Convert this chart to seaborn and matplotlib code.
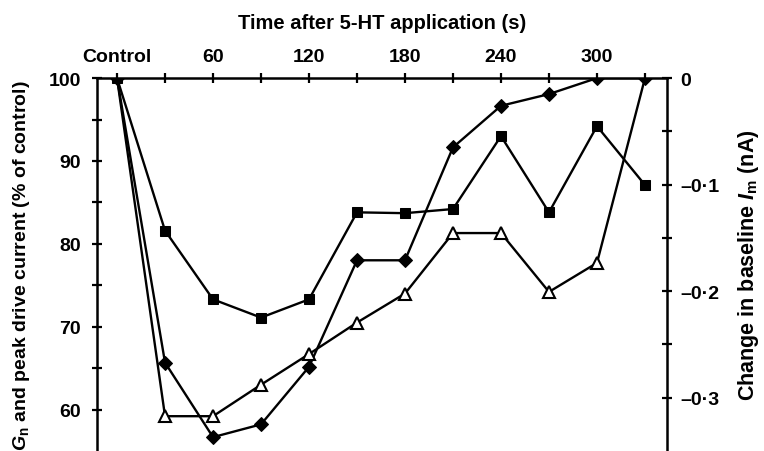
import numpy as np
import pandas as pd
import seaborn as sns
import matplotlib.pyplot as plt
from matplotlib.ticker import FixedLocator, FuncFormatter

# Time points (s) after 5-HT application; 0 is the control recording
time_s = [0, 30, 60, 90, 120, 150, 180, 210, 240, 270, 300, 330]

# Peak drive current (% of control)
peak_drive = [100, 81.6, 73.3, 71.1, 73.3, 83.8, 83.7, 84.2, 93.0, 83.8, 94.2, 87.1]
# Gn (% of control)
gn = [100, 59.2, 59.2, 63.0, 66.7, 70.5, 74.0, 81.3, 81.3, 74.2, 77.7, 100]
# Change in baseline Im (nA)
im_change = [0, -0.267, -0.337, -0.325, -0.271, -0.171, -0.171, -0.065, -0.026, -0.015, 0, 0]

x_ticks = [0, 30, 60, 90, 120, 150, 180, 210, 240, 270, 300, 330]
x_tick_labels = ["Control", "", "60", "", "120", "", "180", "", "240", "", "300", ""]

sns.set_style("ticks")
plt.rcParams["font.family"] = ["Liberation Sans", "DejaVu Sans"]
plt.rcParams["font.weight"] = "bold"
plt.rcParams["text.color"] = "black"
plt.rcParams["axes.labelcolor"] = "black"
plt.rcParams["xtick.color"] = "black"
plt.rcParams["ytick.color"] = "black"
plt.rcParams["axes.edgecolor"] = "black"
plt.rcParams["mathtext.fontset"] = "custom"
plt.rcParams["mathtext.rm"] = "Liberation Sans:bold"
plt.rcParams["mathtext.it"] = "Liberation Sans:italic:bold"

df = pd.DataFrame({"time": time_s, "peak": peak_drive, "gn": gn, "im": im_change})

fig = plt.figure(figsize=(7.64, 4.52), dpi=100)
ax = fig.add_axes([0.127, 0.0, 0.746, 0.825])
ax2 = ax.twinx()
# keep the left-axis series above the right-axis one
ax.set_zorder(ax2.get_zorder() + 1)
ax.patch.set_visible(False)

lw = 1.7
sns.lineplot(data=df, x="time", y="im", ax=ax2, color="black", lw=lw,
             marker="D", markersize=7, markerfacecolor="black",
             markeredgecolor="black", zorder=5)
sns.lineplot(data=df, x="time", y="gn", ax=ax, color="black", lw=lw,
             marker="^", markersize=8.5, markerfacecolor="white",
             markeredgecolor="black", markeredgewidth=1.5,
             markevery=list(range(1, len(time_s) - 1)), zorder=3)
sns.lineplot(data=df, x="time", y="peak", ax=ax, color="black", lw=lw,
             marker="s", markersize=7.5, markerfacecolor="black",
             markeredgecolor="black", zorder=4)

ax.set_xlim(-12.5, 343.75)
ax.set_ylim(55, 100)
ax2.set_ylim(-0.350, 0)

for a in (ax, ax2):
    a.spines["bottom"].set_visible(False)
    for s in ("left", "right", "top"):
        a.spines[s].set_linewidth(1.8)
    a.set_xlabel("")
    a.set_ylabel("")

ax.spines["right"].set_visible(False)
ax2.spines["left"].set_visible(False)
ax2.spines["top"].set_visible(False)

tick_len = 7.5
ax.xaxis.tick_top()
ax.xaxis.set_label_position("top")
ax.set_xticks(x_ticks)
ax.set_xticklabels(x_tick_labels)
ax.tick_params(axis="x", direction="inout", length=tick_len, width=1.6, pad=6,
               labelsize=14, bottom=False)

ax.set_yticks([60, 70, 80, 90, 100])
ax.yaxis.set_minor_locator(FixedLocator([65, 75, 85, 95]))
ax.tick_params(axis="y", which="both", direction="inout", length=tick_len,
               width=1.6, labelsize=14, pad=8)

ax2.set_yticks([0, -0.1, -0.2, -0.3])
ax2.yaxis.set_minor_locator(FixedLocator([-0.05, -0.15, -0.25]))
ax2.yaxis.set_major_formatter(FuncFormatter(
    lambda v, p: "0" if abs(v) < 1e-9 else ("\u2013" + f"{abs(v):.1f}".replace(".", "\u00b7"))))
ax2.tick_params(axis="y", which="both", direction="inout", length=tick_len,
                width=1.6, labelsize=14, pad=6)

ax.set_xlabel("Time after 5-HT application (s)", fontsize=14.5, fontweight="bold",
              labelpad=14)
ax.set_ylabel(r"$G_\mathrm{n}$ and peak drive current (% of control)",
              fontsize=14, fontweight="bold", labelpad=12)
ax2.set_ylabel(r"Change in baseline $I_\mathrm{m}$ (nA)", fontsize=15.5,
               fontweight="bold", labelpad=12)

fig.savefig("out.png", dpi=100)
